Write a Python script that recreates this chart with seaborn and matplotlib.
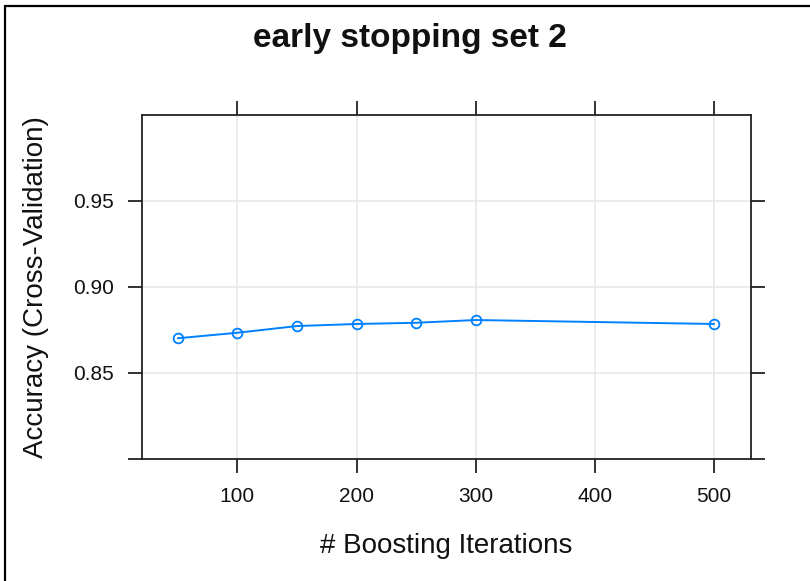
import matplotlib
matplotlib.use("Agg")
import matplotlib.pyplot as plt
from matplotlib.lines import Line2D
import seaborn as sns
import pandas as pd

# Data
iterations = [50, 100, 150, 200, 250, 300, 500]
accuracy = [0.8702, 0.8734, 0.8773, 0.8785, 0.8792, 0.8808, 0.8785]
x_ticks = [100, 200, 300, 400, 500]
x_tick_labels = ["100", "200", "300", "400", "500"]
y_ticks = [0.80, 0.85, 0.90, 0.95]
y_tick_labels = ["", "0.85", "0.90", "0.95"]

title = "early stopping set 2"
x_label = "# Boosting Iterations"
y_label = "Accuracy (Cross-Validation)"

df = pd.DataFrame({"iter": iterations, "acc": accuracy})

sns.set_style("white")
plt.rcParams["font.family"] = ["Liberation Sans", "DejaVu Sans"]

W, H = 810, 581
fig = plt.figure(figsize=(W / 100, H / 100), dpi=100)
fig.patch.set_facecolor("white")

# axes box in pixels: left 142, right 751, top 115, bottom 459
L, R, T, B = 142, 751, 115, 459
ax = fig.add_axes([L / W, 1 - B / H, (R - L) / W, (B - T) / H])

blue = "#0080FF"
sns.lineplot(data=df, x="iter", y="acc", ax=ax, color=blue, linewidth=1.4,
             marker="o", markersize=7, markerfacecolor="none",
             markeredgecolor=blue, markeredgewidth=1.3)

ax.set_xlim(20, 531)
ax.set_ylim(0.80, 1.00)

ax.set_xticks(x_ticks)
ax.set_xticklabels(x_tick_labels)
ax.set_yticks(y_ticks)
ax.set_yticklabels(y_tick_labels)

# grid
for xv in x_ticks:
    ax.axvline(xv, color="#E6E6E6", linewidth=1.1, zorder=0)
for yv in y_ticks[1:]:
    ax.axhline(yv, color="#E6E6E6", linewidth=1.1, zorder=0)

for s in ax.spines.values():
    s.set_color("#222222")
    s.set_linewidth(1.3)

ax.tick_params(axis="both", which="major", direction="out", length=10,
               width=1.3, color="#222222", labelsize=15, labelcolor="#111111",
               pad=10.5)
ax.tick_params(axis="x", top=True, labeltop=False, bottom=True)
ax.tick_params(axis="y", right=True, labelright=False, left=True)

ax.set_xlabel(x_label, fontsize=20, color="#111111")
ax.xaxis.label.set_va("baseline")
ax.xaxis.set_label_coords(0.5, (B - 553) / (B - T))

ax.set_ylabel(y_label, fontsize=20, color="#111111")
ax.yaxis.set_label_coords((49 - L) / (R - L), 0.5)

fig.text(410 / W, 1 - 47 / H, title, fontsize=24, fontweight="bold",
         ha="center", va="baseline", color="#111111")

# screenshot frame (left and top edges)
fig.add_artist(Line2D([5 / W, 5 / W], [0, 1 - 6 / H], transform=fig.transFigure,
                      color="black", linewidth=1.6))
fig.add_artist(Line2D([5 / W, 1], [1 - 6 / H, 1 - 6 / H], transform=fig.transFigure,
                      color="black", linewidth=1.6))

fig.savefig("out.png", dpi=100)
